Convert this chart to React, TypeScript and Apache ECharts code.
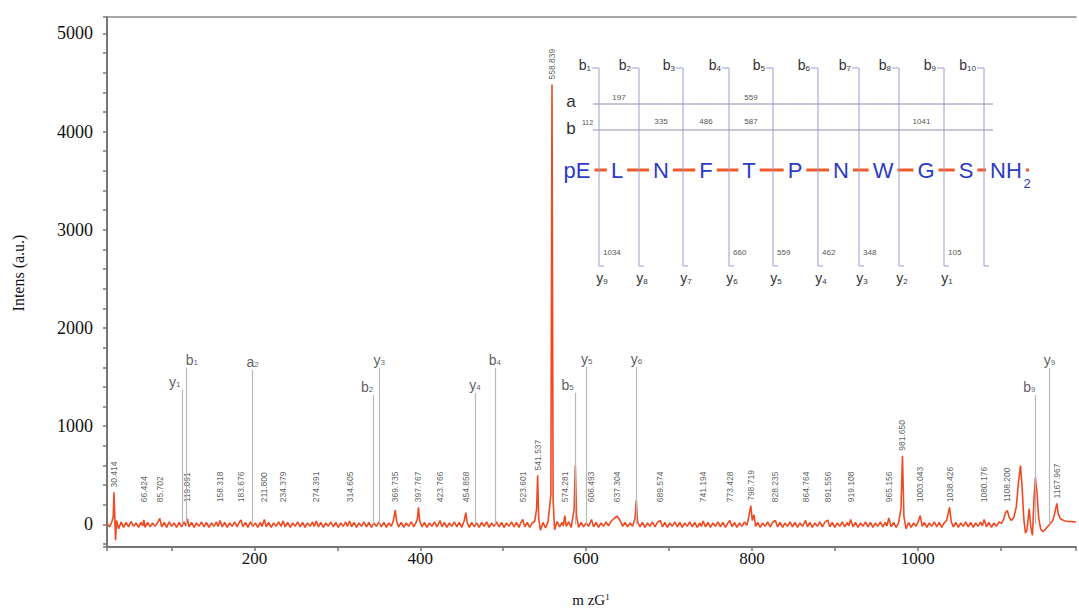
import React, { useEffect, useRef } from 'react';
import * as echarts from 'echarts';

// ---------- DATA ----------
// spectrum trace: [m/z, intensity]
const spectrum: [number, number][] = [
  [22,10],[25,-25],[28,30],[29.5,80],[30.414,326],[31.3,110],[32.3,-160],[33.5,40],[36,-45],[39,25],[42,-30],[45,20],[48,-25],[51,30],[54,-20],[57,15],[60,-30],[63,20],[65,-15],[66.424,45],[68,-30],[71,20],[74,-25],[77,15],[80,-20],[83,20],[85.702,60],[88,-25],[91,20],[94,-30],[97,25],[100,-20],[103,15],[106,-30],[109,20],[112,-25],[115,25],[117,-15],[119.091,55],[121,-25],[124,20],[127,-30],[130,15],[133,-20],[136,25],[139,-25],[142,20],[145,-30],[148,15],[151,-20],[154,25],[156,-20],[158.318,40],[161,-25],[164,20],[167,-30],[170,15],[173,-20],[176,25],[179,-25],[181,15],[183.676,45],[186,-25],[189,20],[192,-30],[195,25],[198,-20],[201,15],[204,-30],[207,20],[209,-20],[211.8,50],[214,-25],[217,20],[220,-30],[223,15],[226,-20],[229,25],[232,-20],[234.379,35],[237,-25],[240,20],[243,-30],[246,15],[249,-20],[252,25],[255,-25],[258,20],[261,-30],[264,15],[267,-20],[270,25],[272,-20],[274.391,35],[277,-25],[280,20],[283,-30],[286,15],[289,-20],[292,25],[295,-25],[298,20],[301,-30],[304,15],[307,-20],[310,25],[312,-20],[314.605,35],[317,-25],[320,20],[323,-30],[326,15],[329,-20],[332,25],[335,-25],[338,20],[341,-30],[344,15],[347,-20],[350,25],[353,-25],[356,20],[359,-30],[362,15],[365,-20],[367.5,40],[369.735,145],[371.5,30],[374,-25],[377,20],[380,-30],[383,15],[386,-20],[389,25],[392,-25],[395,20],[396.5,60],[397.767,175],[399.2,40],[402,-25],[405,20],[408,-30],[411,15],[414,-20],[417,25],[420,-25],[423.766,40],[426,-25],[429,20],[432,-30],[435,15],[438,-20],[441,25],[444,-25],[447,20],[450,-30],[453,40],[454.858,120],[456.5,20],[459,-30],[462,20],[465,-25],[468,15],[471,-30],[474,20],[477,-20],[480,25],[483,-30],[486,15],[489,-20],[492,25],[495,-25],[498,20],[501,-30],[504,15],[507,-20],[510,25],[513,-25],[516,20],[519,-30],[521,15],[523.601,50],[526,-25],[529,20],[532,-30],[535,15],[538,30],[540.3,160],[541.537,500],[542.8,60],[545,-60],[548,20],[551,-35],[554,20],[557.5,300],[558.839,4480],[560.2,250],[562,-55],[565,30],[568,-25],[571,20],[572.5,-15],[574.281,90],[576,-20],[579,25],[582,-30],[585.5,150],[587,600],[588.5,80],[591,-30],[594,20],[597,-25],[600,15],[603,-20],[606.493,50],[609,-25],[612,20],[615,-30],[618,15],[621,-20],[624,25],[627,-15],[630,30],[633,55],[637.304,85],[641,40],[644,-20],[647,20],[650,-25],[653,15],[656,-20],[659,60],[660.5,245],[662,30],[665,-25],[668,20],[671,-30],[674,15],[677,-20],[680,25],[683,-25],[686,20],[689.574,40],[692,-25],[695,20],[698,-30],[701,15],[704,-20],[707,25],[710,-25],[713,20],[716,-30],[719,15],[722,-20],[725,25],[728,-25],[731,20],[734,-30],[737,15],[739,-20],[741.194,35],[744,-25],[747,20],[750,-30],[753,15],[756,-20],[759,25],[762,-25],[765,20],[768,-30],[771,15],[773.428,40],[776,-25],[779,20],[782,-30],[785,15],[788,-20],[791,25],[794,-10],[796,70],[798.719,190],[800.5,40],[802.5,100],[804.5,-20],[807,20],[810,-30],[813,15],[816,-20],[819,25],[822,-25],[825,20],[828.235,40],[831,-25],[834,20],[837,-30],[840,15],[843,-20],[846,25],[849,-25],[852,20],[855,-30],[858,15],[861,-20],[864.764,40],[867,-25],[870,20],[873,-30],[876,15],[879,-20],[882,25],[885,-25],[888,20],[891.556,45],[894,-25],[897,20],[900,-30],[903,15],[906,-20],[909,25],[912,-25],[915,20],[917,-15],[919.108,50],[922,-25],[925,20],[928,-30],[931,15],[934,-20],[937,25],[940,-25],[943,20],[946,-30],[949,15],[952,-20],[955,25],[958,-25],[961,20],[963,-15],[965.156,65],[968,-25],[971,20],[974,-30],[977,15],[979.8,160],[981.65,700],[983.4,80],[986,-45],[989,20],[992,-30],[995,15],[998,-20],[1001,35],[1003.043,90],[1005.5,-20],[1008,20],[1011,-30],[1014,15],[1017,-20],[1020,25],[1023,-25],[1026,20],[1029,-30],[1032,15],[1035,40],[1038.426,175],[1040.5,30],[1043,-25],[1046,20],[1049,-30],[1052,15],[1055,-20],[1058,25],[1061,-25],[1064,20],[1067,-30],[1070,15],[1073,-20],[1076,25],[1078,-15],[1080.176,50],[1083,-25],[1086,20],[1089,-30],[1092,15],[1095,-20],[1098,25],[1101,10],[1104,60],[1106,120],[1108.2,140],[1110.5,70],[1113,40],[1116,70],[1119,180],[1121.5,420],[1124,600],[1126,380],[1128,60],[1130,-90],[1132,-50],[1134.5,160],[1136.5,-30],[1138.5,-110],[1140.3,250],[1142,480],[1144,320],[1146,60],[1148.5,-50],[1151,-75],[1154,-50],[1157,-20],[1160,10],[1163,40],[1165.5,120],[1167.967,215],[1169.5,110],[1172,60],[1175,45],[1178,35],[1182,30],[1186,28],[1191,25]
];

// labelled peaks: [m/z, peak intensity]
const labelledPeaks: [number, number][] = [
  [30.414, 326], [66.424, 45], [85.702, 60], [119.091, 55], [158.318, 40], [183.676, 45],
  [211.800, 50], [234.379, 35], [274.391, 35], [314.605, 35], [369.735, 145], [397.767, 175],
  [423.766, 40], [454.858, 120], [523.601, 50], [541.537, 500], [558.839, 4480], [574.281, 90],
  [606.493, 50], [637.304, 85], [689.574, 40], [741.194, 35], [773.428, 40], [798.719, 190],
  [828.235, 40], [864.764, 40], [891.556, 45], [919.108, 50], [965.156, 65], [981.650, 700],
  [1003.043, 90], [1038.426, 175], [1080.176, 50], [1108.200, 140], [1167.967, 215]
];

// fragment ion markers: [ion, index, m/z, marker height]
const fragmentIons: [string, string, number, number][] = [
  ['y', '1', 112.2, 1370], ['b', '1', 118.2, 1594], ['a', '2', 197.6, 1573],
  ['b', '2', 343.0, 1318], ['y', '3', 350.3, 1594], ['y', '4', 465.8, 1339],
  ['b', '4', 489.9, 1594], ['b', '5', 587.3, 1339], ['y', '5', 600.6, 1604],
  ['y', '6', 660.7, 1604], ['b', '9', 1142.0, 1318], ['y', '9', 1159.0, 1594]
];

// sequence inset
const residues = ['pE', 'L', 'N', 'F', 'T', 'P', 'N', 'W', 'G', 'S', 'NH2'];
const bIonNumbers = ['1', '2', '3', '4', '5', '6', '7', '8', '9', '10'];
const yIonNumbers = ['9', '8', '7', '6', '5', '4', '3', '2', '1'];
const bRowStart = '112';
const aRowMasses: [string, number][] = [['197', 2], ['559', 5]];
const bRowMasses: [string, number][] = [['335', 3], ['486', 4], ['587', 5], ['1041', 9]];
const yRowMasses: [string, number][] = [['1034', 1], ['660', 4], ['559', 5], ['462', 6], ['348', 7], ['105', 9]];

// ---------- LAYOUT / STYLE ----------
const SANS = '"Liberation Sans", Arial, sans-serif';
const SERIF = '"Liberation Serif", "Times New Roman", serif';
const RES_X = [577, 617, 661, 706, 749, 795, 841, 883, 926, 966, 1006];
const CUT_X = [599, 639, 683, 729, 773, 818, 859, 899, 944, 984];
const FRAG_DX: Record<number, number> = { 0: -7, 1: 5, 3: -6, 7: -8, 10: -6 };

function plainText(t: string, x: number, y: number, size: number, color: string, align: string, family = SANS) {
  return {
    type: 'text', x, y, silent: true,
    style: { text: t, fontSize: size, fontFamily: family, fill: color, align, verticalAlign: 'middle' }
  };
}

function ionText(main: string, sub: string, x: number, y: number, align: string) {
  return {
    type: 'text', x, y, silent: true,
    style: {
      text: `{m|${main}}{s|${sub}}`,
      align, verticalAlign: 'middle',
      rich: {
        m: { fontSize: 14, fontFamily: SANS, fill: '#333', lineHeight: 14 },
        s: { fontSize: 8, fontFamily: SANS, fill: '#333', lineHeight: 4, verticalAlign: 'bottom' }
      }
    }
  };
}

function buildInset() {
  const g: any[] = [];
  const rowLine = '#8c8cae';
  const cutLine = '#9c9cd8';
  g.push({ type: 'line', silent: true, shape: { x1: 593, y1: 104, x2: 993, y2: 104 }, style: { stroke: rowLine, lineWidth: 1 } });
  g.push({ type: 'line', silent: true, shape: { x1: 593, y1: 130, x2: 993, y2: 130 }, style: { stroke: rowLine, lineWidth: 1 } });
  g.push(plainText('a', 571, 101, 17, '#333', 'center'));
  g.push(plainText('b', 571, 128, 17, '#333', 'center'));
  g.push(plainText(bRowStart, 582, 122, 7, '#555', 'left'));

  g.push({ type: 'line', silent: true, shape: { x1: 589, y1: 170, x2: 1029, y2: 170 }, style: { stroke: '#ef5a2a', lineWidth: 3 } });
  residues.forEach((r, i) => {
    const main = r === 'NH2' ? 'NH' : r;
    g.push({
      type: 'text', x: RES_X[i], y: 170, silent: true,
      style: {
        text: main, fontSize: 22, fontFamily: SANS, fill: '#2d3ac4', align: 'center', verticalAlign: 'middle',
        backgroundColor: '#ffffff', padding: [0, 4]
      }
    });
    if (r === 'NH2') g.push(plainText('2', 1027, 183, 13, '#2d3ac4', 'center'));
  });

  CUT_X.forEach((x, i) => {
    g.push({
      type: 'polyline', silent: true,
      shape: { points: [[x - 7, 68], [x, 68], [x, 266], [x + 5, 266]] },
      style: { stroke: cutLine, lineWidth: 1, fill: 'none' }
    });
    g.push(ionText('b', bIonNumbers[i], x - 8, 65, 'right'));
    if (i < yIonNumbers.length) g.push(ionText('y', yIonNumbers[i], x + 3, 278, 'center'));
  });

  const colMid = (k: number) => (CUT_X[k - 2] !== undefined ? (CUT_X[k - 2] + CUT_X[k - 1]) / 2 : CUT_X[k - 1] - 20);
  aRowMasses.forEach(([t, k]) => g.push(plainText(t, colMid(k), 97, 8, '#555', 'center')));
  bRowMasses.forEach(([t, k]) => g.push(plainText(t, colMid(k), 121, 8, '#555', 'center')));
  yRowMasses.forEach(([t, k]) => g.push(plainText(t, CUT_X[k - 1] + 4, 252, 8, '#555', 'left')));
  return g;
}

export default function App() {
  const ref = useRef<HTMLDivElement>(null);
  useEffect(() => {
    document.body.style.margin = '0';
    if (!ref.current) return;
    const chart = echarts.init(ref.current, null, { renderer: 'svg' });

    const peakLabelData = labelledPeaks.map(([mz, h]) => ({
      value: [mz, Math.max(h + 50, 225)],
      name: mz.toFixed(3)
    }));
    const fragData = fragmentIons.map(([ion, n, mz, top], i) => ({
      value: [mz, top],
      label: { formatter: `{m|${ion}}{s|${n}}`, offset: [FRAG_DX[i] || 0, 0] }
    }));
    const markLines = fragmentIons.map(([, , mz, top]) => [{ coord: [mz, 0] }, { coord: [mz, top] }]);

    const axisColor = '#777';
    chart.setOption({
      animation: false,
      grid: { left: 107, right: 0, top: 17, bottom: 64, containLabel: false },
      xAxis: [
        {
          type: 'value', min: 22, max: 1191, splitNumber: 11, position: 'bottom',
          axisLine: { show: true, onZero: false, lineStyle: { color: axisColor, width: 2 } },
          axisTick: { show: true, length: 4, lineStyle: { color: axisColor, width: 1.5 } },
          axisLabel: {
            formatter: (v: number) => (v > 0 && Math.abs(v % 200) < 1e-6 ? String(v) : ''),
            color: '#111', fontFamily: SERIF, fontSize: 17, margin: 3
          },
          splitLine: { show: false }
        },
        {
          type: 'value', min: 22, max: 1191, position: 'top',
          axisLine: { show: true, onZero: false, lineStyle: { color: '#8a8a8a', width: 1.5 } },
          axisTick: { show: false }, axisLabel: { show: false }, splitLine: { show: false }
        }
      ],
      yAxis: {
        type: 'value', min: -230, max: 5167, splitNumber: 27,
        axisLine: { show: true, onZero: false, lineStyle: { color: axisColor, width: 2 } },
        axisTick: { show: true, length: 4, lineStyle: { color: axisColor, width: 1.5 } },
        axisLabel: {
          formatter: (v: number) => (Math.abs(v % 1000) < 1e-6 ? String(v) : ''),
          color: '#111', fontFamily: SERIF, fontSize: 18, margin: 14
        },
        splitLine: { show: false }
      },
      series: [
        {
          type: 'line', data: spectrum, symbol: 'none', showSymbol: false, z: 3,
          lineStyle: { color: '#ef4a22', width: 1.6 },
          markLine: {
            silent: true, symbol: ['none', 'none'], animation: false,
            label: { show: false },
            lineStyle: { color: '#b8b8b8', width: 1.2, type: 'solid' },
            emphasis: { disabled: true },
            data: markLines
          }
        },
        {
          type: 'scatter', data: peakLabelData, symbolSize: 0, silent: true, z: 4,
          label: {
            show: true, formatter: '{b}', position: 'top', distance: 0, rotate: 90,
            align: 'left', verticalAlign: 'middle',
            fontSize: 8.5, fontFamily: SANS, color: '#333'
          }
        },
        {
          type: 'scatter', data: fragData, symbolSize: 0, silent: true, z: 4,
          label: {
            show: true, position: 'top', distance: 1, align: 'center',
            rich: {
              m: { fontSize: 14, fontFamily: SANS, color: '#333', lineHeight: 14 },
              s: { fontSize: 8, fontFamily: SANS, color: '#333', lineHeight: 4, verticalAlign: 'bottom' }
            }
          }
        }
      ],
      graphic: [
        {
          type: 'text', x: 18, y: 273, rotation: Math.PI / 2, silent: true,
          style: { text: 'Intens (a.u.)', fontSize: 16, fontFamily: SERIF, fill: '#111', align: 'center', verticalAlign: 'middle' }
        },
        {
          type: 'text', x: 591, y: 600, silent: true,
          style: {
            text: '{m|m zG}{s|1}', align: 'center', verticalAlign: 'middle',
            rich: {
              m: { fontSize: 15, fontFamily: SERIF, fill: '#111', lineHeight: 15 },
              s: { fontSize: 9, fontFamily: SERIF, fill: '#111', lineHeight: 6, verticalAlign: 'top' }
            }
          }
        },
        ...buildInset()
      ]
    });
    return () => chart.dispose();
  }, []);
  return <div ref={ref} style={{ width: 1079, height: 611 }} />;
}
